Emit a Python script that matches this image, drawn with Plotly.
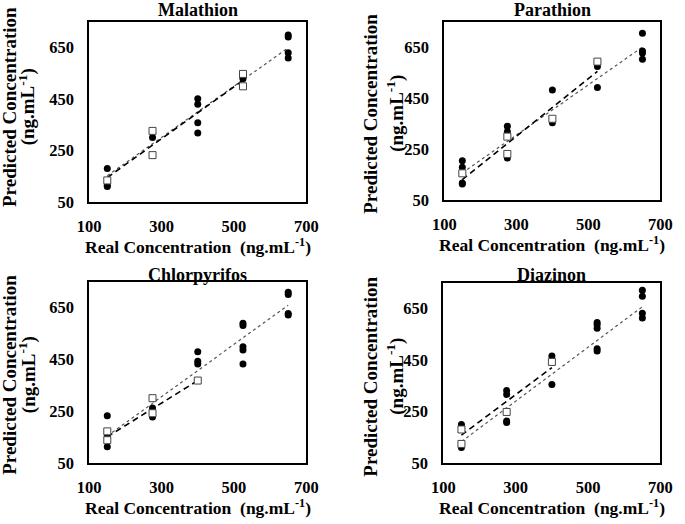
import plotly.graph_objects as go

# ---------------- data ----------------
titles = ["Malathion", "Parathion", "Chlorpyrifos", "Diazinon"]
x_ticks = [100, 300, 500, 700]
y_ticks = [50, 250, 450, 650]
x_title = "<b>Real Concentration  (ng.mL<sup>-1</sup>)</b>"
y_title_1 = "<b>Predicted Concentration</b>"
y_title_2 = "<b>(ng.mL<sup>-1</sup>)</b>"

# Malathion
mal_cx = [150, 150, 150, 275, 400, 400, 400, 400, 525, 525, 650, 650, 650, 650]
mal_cy = [180, 115, 110, 300, 451, 429, 358, 318, 528, 534, 698, 690, 629, 609]
mal_sx = [150, 275, 275, 525, 525]
mal_sy = [134, 326, 232, 547, 499]
mal_dot_x = [150, 650]
mal_dot_y = [152, 648]
mal_dash_x = [150, 525]
mal_dash_y = [145, 522]

# Parathion
par_cx = [150, 150, 150, 150, 275, 275, 275, 400, 400, 525, 525, 650, 650, 650, 650]
par_cy = [204, 179, 117, 113, 340, 318, 215, 482, 353, 574, 492, 704, 635, 627, 602]
par_sx = [150, 275, 275, 400, 525]
par_sy = [155, 299, 231, 369, 593]
par_dot_x = [150, 650]
par_dot_y = [157, 650]
par_dash_x = [150, 525]
par_dash_y = [130, 555]

# Chlorpyrifos
chl_cx = [150, 150, 150, 275, 275, 400, 400, 400, 525, 525, 525, 525, 525, 650, 650, 650, 650]
chl_cy = [232, 154, 113, 262, 227, 479, 442, 432, 589, 580, 498, 486, 432, 709, 700, 627, 621]
chl_sx = [150, 150, 275, 275, 400]
chl_sy = [172, 138, 300, 242, 368]
chl_dot_x = [150, 650]
chl_dot_y = [154, 659]
chl_dash_x = [150, 400]
chl_dash_y = [151, 368]

# Diazinon
dia_cx = [150, 150, 150, 275, 275, 275, 275, 400, 400, 525, 525, 525, 525, 525, 650, 650, 650, 650]
dia_cy = [199, 190, 110, 331, 316, 213, 207, 465, 354, 595, 586, 573, 493, 484, 720, 697, 631, 612]
dia_sx = [150, 150, 275, 400]
dia_sy = [180, 124, 248, 442]
dia_dot_x = [150, 650]
dia_dot_y = [133, 656]
dia_dash_x = [150, 400]
dia_dash_y = [158, 420]

panels = [
    (mal_cx, mal_cy, mal_sx, mal_sy, mal_dot_x, mal_dot_y, mal_dash_x, mal_dash_y),
    (par_cx, par_cy, par_sx, par_sy, par_dot_x, par_dot_y, par_dash_x, par_dash_y),
    (chl_cx, chl_cy, chl_sx, chl_sy, chl_dot_x, chl_dot_y, chl_dash_x, chl_dash_y),
    (dia_cx, dia_cy, dia_sx, dia_sy, dia_dot_x, dia_dot_y, dia_dash_x, dia_dash_y),
]

# ---------------- layout geometry (pixels) ----------------
W, H = 685, 524
boxes = [  # left, right, top, bottom in pixels
    (80, 305, 22, 206),
    (448, 672, 22, 204),
    (80, 305, 287, 472),
    (447, 672, 288, 472),
]
title_y = [10, 10, 280, 280]
# y-title placement: (x line1, x line2, y centre) in pixels (annotation anchor)
ytitle_pos = [(-2, 16, 109), (372, 398, 116), (-2, 16, 382), (372, 398, 384)]

FONT = "Times New Roman, Liberation Serif, serif"

fig = go.Figure()
annotations = []
layout_axes = {}


def ann(text, xpx, ypx, size, angle=0):
    return dict(text=text, x=xpx / W, y=1 - ypx / H, xref="paper", yref="paper",
                showarrow=False, textangle=angle,
                font=dict(family=FONT, size=size, color="black"),
                xanchor="center", yanchor="middle")


for i, (data, box, title) in enumerate(zip(panels, boxes, titles)):
    cx, cy, sx, sy, dx, dy, ex, ey = data
    n = "" if i == 0 else str(i + 1)
    xa, ya = "x" + n, "y" + n
    l, r, t, b = box
    xd = [l / W, r / W]
    yd = [1 - b / H, 1 - t / H]

    fig.add_trace(go.Scatter(x=dx, y=dy, mode="lines", xaxis=xa, yaxis=ya,
                             line=dict(color="#555555", width=1.2, dash="dot"),
                             showlegend=False, hoverinfo="skip"))
    fig.add_trace(go.Scatter(x=ex, y=ey, mode="lines", xaxis=xa, yaxis=ya,
                             line=dict(color="black", width=1.6, dash="6px,4px"),
                             showlegend=False, hoverinfo="skip"))
    fig.add_trace(go.Scatter(x=cx, y=cy, mode="markers", xaxis=xa, yaxis=ya,
                             marker=dict(symbol="circle", size=7, color="black"),
                             showlegend=False))
    fig.add_trace(go.Scatter(x=sx, y=sy, mode="markers", xaxis=xa, yaxis=ya,
                             marker=dict(symbol="square", size=7, color="white",
                                         line=dict(color="#444444", width=1)),
                             showlegend=False))

    axis_common = dict(showgrid=False, zeroline=False, showline=True, linecolor="black",
                       linewidth=2, mirror=True, ticks="",
                       tickfont=dict(family=FONT, size=16.5, color="black", weight="bold"))
    layout_axes["xaxis" + n] = dict(domain=xd, range=[100, 700], tickvals=x_ticks,
                                    anchor=ya, ticklabelstandoff=8, **axis_common)
    layout_axes["yaxis" + n] = dict(domain=yd, range=[50, 750], tickvals=y_ticks,
                                    anchor=xa, ticklabelstandoff=10, **axis_common)

    cxpx = (l + r) / 2
    annotations.append(ann("<b>" + title + "</b>", cxpx, title_y[i], 18))
    annotations.append(ann(x_title, cxpx, b + 45, 17.5))
    x1, x2, yc = ytitle_pos[i]
    annotations.append(ann(y_title_1, x1, yc, 19, -90))
    annotations.append(ann(y_title_2, x2, yc, 19, -90))

fig.update_layout(width=W, height=H, margin=dict(l=0, r=0, t=0, b=0),
                  paper_bgcolor="white", plot_bgcolor="white",
                  annotations=annotations, **layout_axes)

fig.write_html("out.html", config={"displayModeBar": False},
               post_script="document.body.style.margin='0';document.body.style.padding='0';")
